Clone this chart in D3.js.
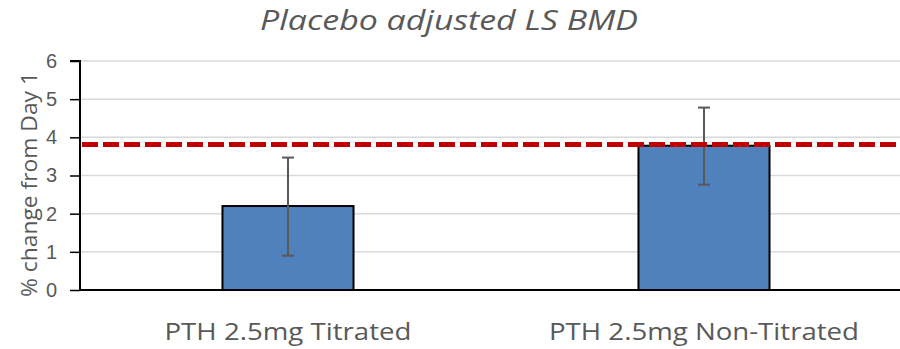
<!DOCTYPE html>
<html>
<head>
<meta charset="utf-8">
<script src="https://cdn.jsdelivr.net/npm/d3@7"></script>
<style>
  body { margin: 0; background: #fff; }
  svg { display: block; font-family: "Open Sans", sans-serif; }
</style>
</head>
<body>
<div id="chart"></div>
<script>
// data
const categories = ["PTH 2.5mg Titrated", "PTH 2.5mg Non-Titrated"];
const values = [2.2, 3.78];
const errLow = [0.9, 2.76];
const errHigh = [3.47, 4.78];
const refLine = 3.81;
const yTicks = [0, 1, 2, 3, 4, 5, 6];

const width = 900, height = 349;
const margin = {top: 61, right: 0, bottom: 59, left: 80};

const svg = d3.select("#chart").append("svg")
  .attr("width", width)
  .attr("height", height);

const x = d3.scaleBand()
  .domain(categories)
  .range([margin.left, 912])
  .paddingInner(0.685)
  .paddingOuter(0.3425);

const y = d3.scaleLinear()
  .domain([0, 6])
  .range([height - margin.bottom, margin.top]);

// gridlines
svg.append("g")
  .selectAll("line")
  .data(yTicks.filter(d => d > 0))
  .enter().append("line")
  .attr("x1", margin.left)
  .attr("x2", width)
  .attr("y1", d => y(d))
  .attr("y2", d => y(d))
  .attr("stroke", "#d9d9d9")
  .attr("stroke-width", 1.5);

// bars
svg.append("g")
  .selectAll("rect")
  .data(categories)
  .enter().append("rect")
  .attr("x", d => x(d))
  .attr("width", x.bandwidth())
  .attr("y", (d, i) => y(values[i]))
  .attr("height", (d, i) => y(0) - y(values[i]))
  .attr("fill", "#4f81bd")
  .attr("stroke", "#000")
  .attr("stroke-width", 2);

// error bars
const eb = svg.append("g").attr("stroke", "#595959").attr("stroke-width", 2);
categories.forEach((c, i) => {
  const cx = x(c) + x.bandwidth() / 2;
  eb.append("line").attr("x1", cx).attr("x2", cx).attr("y1", y(errLow[i])).attr("y2", y(errHigh[i]));
  eb.append("line").attr("x1", cx - 6).attr("x2", cx + 6).attr("y1", y(errLow[i])).attr("y2", y(errLow[i]));
  eb.append("line").attr("x1", cx - 6).attr("x2", cx + 6).attr("y1", y(errHigh[i])).attr("y2", y(errHigh[i]));
});

// reference dashed line
svg.append("line")
  .attr("x1", margin.left + 2)
  .attr("x2", width)
  .attr("y1", y(refLine))
  .attr("y2", y(refLine))
  .attr("stroke", "#c00000")
  .attr("stroke-width", 5)
  .attr("stroke-dasharray", "16,5");

// y axis
const yAxis = svg.append("g")
  .attr("transform", `translate(${margin.left},0)`)
  .call(d3.axisLeft(y).tickValues(yTicks).tickSize(10).tickPadding(13).tickFormat(d3.format("d")));
yAxis.select(".domain").attr("stroke", "#000").attr("stroke-width", 2).attr("d", `M-10,${y(6)}H0V${y(0)}`);
yAxis.selectAll(".tick line").attr("stroke", "#000").attr("stroke-width", 1.5);
yAxis.selectAll(".tick text").attr("fill", "#595959").style("font-size", "20px");

// x axis baseline
svg.append("line")
  .attr("x1", margin.left)
  .attr("x2", width)
  .attr("y1", y(0))
  .attr("y2", y(0))
  .attr("stroke", "#000")
  .attr("stroke-width", 2);

// x labels (stretched to the reference's label widths)
const labelWidths = [247, 310];
svg.append("g")
  .selectAll("text")
  .data(categories)
  .enter().append("text")
  .attr("x", d => x(d) + x.bandwidth() / 2)
  .attr("y", 340)
  .attr("text-anchor", "middle")
  .attr("fill", "#595959")
  .attr("textLength", (d, i) => labelWidths[i])
  .attr("lengthAdjust", "spacingAndGlyphs")
  .style("font-size", "24px")
  .text(d => d);

// y axis title
svg.append("text")
  .attr("transform", `translate(37,${(y(0) + y(6)) / 2 + 9}) rotate(-90)`)
  .attr("text-anchor", "middle")
  .attr("fill", "#595959")
  .attr("textLength", 225)
  .attr("lengthAdjust", "spacingAndGlyphs")
  .style("font-size", "22px")
  .text("% change from Day 1");

// title
svg.append("text")
  .attr("x", 449)
  .attr("y", 30)
  .attr("text-anchor", "middle")
  .attr("fill", "#595959")
  .attr("textLength", 378)
  .attr("lengthAdjust", "spacingAndGlyphs")
  .style("font-size", "27px")
  .style("font-style", "italic")
  .text("Placebo adjusted LS BMD");
</script>
</body>
</html>
